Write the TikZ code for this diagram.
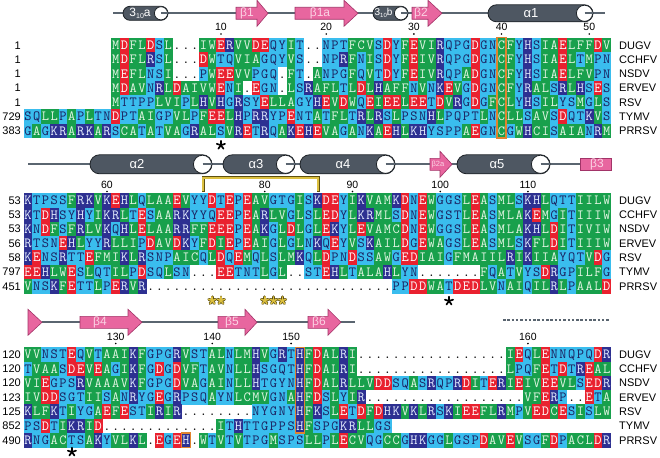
\documentclass[tikz,border=0pt]{standalone}
\usepackage{fontspec}
\setmainfont{Liberation Sans}
\definecolor{cgreen}{HTML}{18A04C}
\definecolor{cltblue}{HTML}{3ABDEE}
\definecolor{cdkblue}{HTML}{2D3091}
\definecolor{cred}{HTML}{E9212F}
\definecolor{tgreen}{HTML}{E4F6E4}
\definecolor{tlt}{HTML}{1B1F5E}
\definecolor{tdk}{HTML}{E6EEFF}
\definecolor{helixfill}{HTML}{4E5762}
\definecolor{helixline}{HTML}{1E2328}
\definecolor{sscol}{HTML}{5A6570}
\definecolor{spink}{HTML}{E8669F}
\definecolor{spinkline}{HTML}{A23468}
\definecolor{pinklab}{HTML}{FBD3E4}
\definecolor{boxorange}{HTML}{E0842F}
\definecolor{goldc}{HTML}{DCC040}
\definecolor{goldedge}{HTML}{5E5010}

\newcommand\resfont{\ttfamily\fontsize{14}{14}\selectfont}

\tikzset{
  rcell/.style={minimum width=9.0pt, minimum height=14.6pt, inner sep=0pt, text height=8.4pt, text depth=0pt, font=\resfont},
  rhyd/.style={rcell, fill=cgreen, text=tgreen},
  rpol/.style={rcell, fill=cltblue, text=tlt},
  racid/.style={rcell, fill=cred, text=white},
  rbase/.style={rcell, fill=cdkblue, text=tdk},
  rgap/.style={rcell, text=black},
  sslinest/.style={draw=sscol, line width=2.2pt},
  helixst/.style={draw=helixline, line width=0.8pt, fill=helixfill},
  strandst/.style={draw=spinkline, line width=0.6pt, fill=spink, line join=miter},
  hlab/.style={text=white, font=\fontsize{13}{13}\selectfont, inner sep=0pt},
  slab/.style={text=pinklab, font=\fontsize{12}{12}\selectfont, inner sep=0pt},
  seqname/.style={anchor=west, font=\fontsize{11}{11}\selectfont, inner sep=0pt},
  seqnum/.style={anchor=east, font=\fontsize{11}{11}\selectfont, inner sep=0pt},
  ticknum/.style={font=\fontsize{10.5}{10.5}\selectfont, inner sep=0pt},
  obox/.style={draw=boxorange, line width=1.5pt},
}

\makeatletter
\def\rcdef#1#2{\expandafter\def\csname rc@#1\endcsname{#2}}
\rcdef{D}{racid}\rcdef{E}{racid}
\rcdef{K}{rbase}\rcdef{R}{rbase}\rcdef{H}{rbase}
\rcdef{A}{rhyd}\rcdef{V}{rhyd}\rcdef{L}{rhyd}\rcdef{I}{rhyd}\rcdef{M}{rhyd}\rcdef{F}{rhyd}\rcdef{W}{rhyd}\rcdef{C}{rhyd}
\rcdef{S}{rpol}\rcdef{T}{rpol}\rcdef{N}{rpol}\rcdef{Q}{rpol}\rcdef{G}{rpol}\rcdef{P}{rpol}\rcdef{Y}{rpol}
\rcdef{.}{rgap}
\newcommand\resid[3]{\edef\rs@st{\csname rc@#3\endcsname}\expandafter\resid@\expandafter{\rs@st}{#1}{#2}{#3}}
\newcommand\resid@[4]{\node[#1] at ({28+8.77*#2},#3) {#4};}
\makeatother

\ExplSyntaxOn
\int_new:N \l_rs_col_int
\cs_new_protected:Npn \drawseq #1#2#3
  {
    \int_set:Nn \l_rs_col_int {#2}
    \tl_map_inline:nn {#3}
      {
        \exp_args:Nx \resid { \int_use:N \l_rs_col_int } {#1} {##1}
        \int_incr:N \l_rs_col_int
      }
  }
\ExplSyntaxOff

\newcommand\gapdots[3]{\foreach \gc in {#2,...,#3}{\node[rgap] at ({28+8.77*\gc},#1) {.};}}

\newcommand\cyl[4]{%
  \draw[helixst, rounded corners=#4pt] (#1,{#3-#4}) rectangle (#2,{#3+#4});
  \draw[helixst, fill=white] ({#2-#4},#3) circle[radius={#4-0.4}];
  \draw[sslinest] ({#2-#4},#3) -- (#2,#3);
}
\newcommand\strand[4]{%
  \draw[strandst] (#1,{#4-6}) -- (#2,{#4-6}) -- (#2,{#4-13}) -- (#3,#4) -- (#2,{#4+13}) -- (#2,{#4+6}) -- (#1,{#4+6}) -- cycle;
}
% five-armed asterisk: x, y, arm length, line width, colour
\newcommand\astk[5]{%
  \foreach \ang in {-90,-18,54,126,198}{\draw[line width=#4pt, line cap=round, draw=#5] (#1,#2) -- ++(\ang:#3);}
}
\newcommand\goldstar[1]{%
  \astk{#1}{300.5}{3.6}{2.9}{goldedge}
  \astk{#1}{300.5}{3.6}{1.5}{goldc}
}

\begin{document}
\begin{tikzpicture}[x=1pt,y=-1pt]
\useasboundingbox (0,0) rectangle (660,457);
\fill[white] (0,0) rectangle (660,457);

% ---------- block 1 secondary structure ----------
\draw[sslinest] (113,13.3) -- (605,13.3);
\cyl{123}{168}{13.3}{7}
\node[hlab, font=\fontsize{12}{12}\selectfont] (l310a) at (140,13.3) {3\raisebox{-2.5pt}{\fontsize{7}{7}\selectfont 10}a};
\strand{236}{257}{268}{13.3}
\node[slab] (lb1) at (247,13.3) {β1};
\strand{295}{344}{358}{13.3}
\node[slab] (lb1a) at (320,13.3) {β1a};
\cyl{373}{408}{13.3}{7}
\node[hlab, font=\fontsize{10}{10}\selectfont] (l310b) at (383.5,13.3) {3\raisebox{-2pt}{\fontsize{6}{6}\selectfont 10}b};
\strand{412}{428}{442}{13.3}
\node[slab] (lb2) at (421,13.3) {β2};
\cyl{488}{593}{13.3}{8.5}
\node[hlab] (la1) at (531,13.3) {α1};

\foreach \c/\t in {22/10,34/20,44/30,54/40,64/50}{
  \node[ticknum] at ({28+8.77*\c},27.3) {\t};
  \fill ({28+8.77*\c},34) circle[radius=0.9];
}

% ---------- block 2 secondary structure ----------
\draw[sslinest] (28,164.3) -- (580,164.3);
\cyl{90}{212}{164.3}{9.5}
\node[hlab] (la2) at (137,164.3) {α2};
\cyl{223}{295}{164.3}{9.5}
\node[hlab] (la3) at (256,164.3) {α3};
\cyl{300}{395}{164.3}{9.5}
\node[hlab] (la4) at (343,164.3) {α4};
\strand{430}{440}{452}{164.3}
\node[slab, font=\fontsize{7.5}{7.5}\selectfont] (lb2a) at (438,164.3) {β2a};
\cyl{457}{550}{164.3}{9.5}
\node[hlab] (la5) at (497,164.3) {α5};
\draw[strandst] (580,158.3) rectangle (611,170.3);
\node[slab] (lb3) at (597,164.3) {β3};

\draw[line width=3.4pt, color=goldedge] (203.3,192) -- (203.3,177.7) -- (318.3,177.7) -- (318.3,192);
\draw[line width=2pt, color=goldc] (203.3,191.3) -- (203.3,177.7) -- (318.3,177.7) -- (318.3,191.3);

\foreach \c/\t in {9/60,27/80,37/90,47/100,57/110}{
  \node[ticknum] at ({28+8.77*\c},185) {\t};
  \fill ({28+8.77*\c},191.5) circle[radius=0.9];
}

% ---------- block 3 secondary structure ----------
\draw[sslinest] (42,322.3) -- (355,322.3);
\draw[strandst] (28,309.3) -- (42,322.3) -- (28,335.3) -- cycle;
\strand{80}{128}{142}{322.3}
\node[slab] (lb4) at (100,322.3) {β4};
\strand{218}{245}{257}{322.3}
\node[slab] (lb5) at (232,322.3) {β5};
\strand{308}{328}{341}{322.3}
\node[slab] (lb6) at (319,322.3) {β6};
\draw[sslinest, dash pattern=on 2.5pt off 1.8pt] (503,320) -- (610,320);

\foreach \c/\t in {10/130,21/140,30/150,57/160}{
  \node[ticknum] at ({28+8.77*\c},336.7) {\t};
  \fill ({28+8.77*\c},343.5) circle[radius=0.9];
}

% ---------- block 1 sequences ----------
\drawseq{45.3}{10}{MDFLDSL...IWERVVDEQYIT..NPTFCVSDYFEVIRQPGDGNCFYHSIAELFFDV}
\drawseq{59.6}{10}{MDFLRSL...DWTQVIAGQYVS..NPRFNISDYFEIVRQPGDGNCFYHSIAELTMPN}
\drawseq{73.9}{10}{MEFLNSI...PWEEVVPGQ.FT.ANPGFQVTDYFEIVRQPADGNCFYHSIAELFVPN}
\drawseq{88.2}{10}{MDAVNRLDAIVWENI.EGN.LSRAFLTLDLHAFFNVNKEVGDGNCFYRALSRLHSES}
\drawseq{102.5}{10}{MTTPPLVIPLHVHGRSYELLAGYHEVDWQEIEELEETDVRGDGFCLYHSILYSMGLS}
\drawseq{116.8}{0}{SQLLPAPLTNDPTAIGPVLPFEELHPRRYPENTATFLTRLRSLPSNHLPQPTLNCLLSAVSDQTKVS}
\drawseq{131.1}{0}{GAGKRARKARSCATATVAGRALSVRETRQAKEHEVAGANKAEHLKHYSPPAEGNCGWHCISAIANRM}

% ---------- block 2 sequences ----------
\drawseq{200.5}{0}{KTPSSFRKVKEHLQLAAEVYYDTEPEAVGTGISKDEYIKVAMKDNEWGGSLEASMLSKHLQTTIILW}
\drawseq{214.8}{0}{KTDHSYHYIKRLTESAARKYYQEEPEARLVGLSLEDYLKRMLSDNEWGSTLEASMLAKEMGITIIIW}
\drawseq{229.1}{0}{KNDFSFRLVKQHLELAARRFFEEEPEAKGLDLGLEKYLEVAMCDNEWGGSLEASMLAKHLDITIVIW}
\drawseq{243.4}{0}{RTSNEHLYYRLLIPDAVDKYFDIEPEAIGLGLNKQEYVSKAILDGEWAGSLEASMLSKFLDITIIIW}
\drawseq{257.7}{0}{KENSRTTEFMIKLRSNPAICQLDQEMQLSLMKQLDPNDSSAWGEDIAIGFMAIILRIKIIAYQTVDG}
\drawseq{272.0}{0}{EEHLWESLQTILPDSQLSN...EETNTLGL..STEHLTALAHLYN}
\gapdots{272.0}{45}{51}
\drawseq{272.0}{52}{FQATVYSDRGPILFG}
\drawseq{286.3}{0}{VNSKFETTLPERVR}
\gapdots{286.3}{14}{41}
\drawseq{286.3}{42}{PPDDWATDEDLVNAIQILRLPAALD}

% ---------- block 3 sequences ----------
\drawseq{354.5}{0}{VVNSTEQVTAAIKFGPGRVSTALNLMHVGRTHFDALRI}
\gapdots{354.5}{38}{54}
\drawseq{354.5}{55}{IEQLENNQPQDR}
\drawseq{368.8}{0}{TVAASDEVEAGIKFGDGDVFTAVNLLHSGQTHFDALRI}
\gapdots{368.8}{38}{54}
\drawseq{368.8}{55}{LPQFETDTREAL}
\drawseq{383.1}{0}{VIEGPSRVAAAVKFGPGDVAGAINLLHTGYNHFDALRLLVDDSQASRQPRDITERIEIVEEVLSEDR}
\drawseq{397.4}{0}{IVDDSGTIISANRYGEGRPSQAYNLCMVGNAHFDSLYIR}
\gapdots{397.4}{39}{56}
\drawseq{397.4}{57}{VFERP..ETA}
\drawseq{411.7}{0}{KLFKTIYGAEFESTIRIR}
\gapdots{411.7}{18}{25}
\drawseq{411.7}{26}{NYGNYHFKSLETDFDHKVKLRSKIEEFLRMPVEDCESISLW}
\drawseq{426.0}{0}{PSDTIKRID}
\gapdots{426.0}{9}{21}
\drawseq{426.0}{22}{ITHTTGPPSHFSPGKRLLGS}
\drawseq{440.3}{0}{RNGACTSAKYVLKL.EGEH.WTVTVTPGMSPSLLPLECVQGCCGHKGGLGSPDAVEVSGFDPACLDR}

% ---------- names and numbers ----------
\foreach \n [count=\i from 0] in {DUGV,CCHFV,NSDV,ERVEV,RSV,TYMV,PRRSV}{
  \node[seqname] at (619,{45.3+14.3*\i}) {\n};
  \node[seqname] at (619,{200.5+14.3*\i}) {\n};
  \node[seqname] at (619,{354.5+14.3*\i}) {\n};
}
\foreach \m [count=\i from 0] in {1,1,1,1,1,729,383}{
  \node[seqnum] at (21,{45.3+14.3*\i}) {\m};
}
\foreach \m [count=\i from 0] in {53,53,53,56,58,797,451}{
  \node[seqnum] at (21,{200.5+14.3*\i}) {\m};
}
\foreach \m [count=\i from 0] in {120,120,120,123,125,852,490}{
  \node[seqnum] at (21,{354.5+14.3*\i}) {\m};
}

% ---------- orange boxes ----------
\draw[obox] (497.2,37.5) rectangle (506.0,138.25);
\draw[obox] (295.5,347.35) rectangle (304.3,433.15);
\draw[obox] (181.5,433.15) rectangle (190.3,447.45);

% ---------- stars ----------
\astk{220.9}{145.2}{4.3}{1.7}{black}
\astk{449.0}{301}{4.3}{1.7}{black}
\astk{71.9}{452}{4.3}{1.7}{black}
\goldstar{212.2}
\goldstar{221.0}
\goldstar{264.8}
\goldstar{273.6}
\goldstar{282.3}
\end{tikzpicture}
\end{document}
